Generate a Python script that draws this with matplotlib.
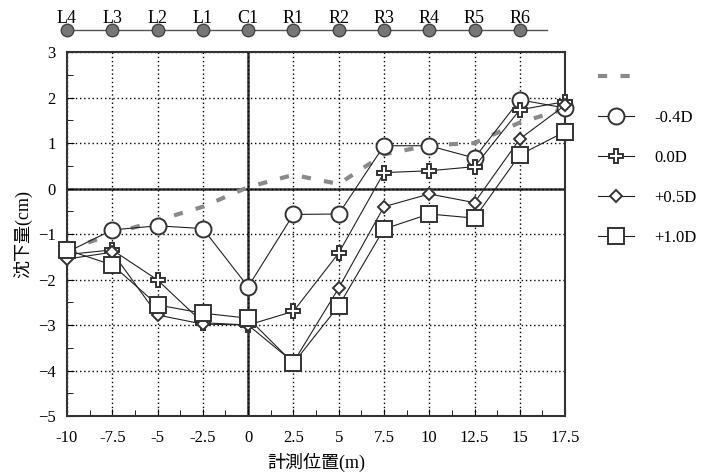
import matplotlib
matplotlib.use("Agg")
import matplotlib.pyplot as plt
from matplotlib.ticker import MultipleLocator

# 計測位置 (m)
x = [-10, -7.5, -5, -2.5, 0, 2.5, 5, 7.5, 10, 12.5, 15, 17.5]
x_labels = ["-10", "-7.5", "-5", "-2.5", "0", "2.5", "5", "7.5", "10", "12.5", "15", "17.5"]

# 沈下量 (cm)
dashed = [-1.35, -1.0, -0.7, -0.4, 0.03, 0.3, 0.1, 0.75, 0.95, 1.0, 1.45, 1.75]
s_m04 = [-1.40, -0.91, -0.82, -0.88, -2.16, -0.57, -0.56, 0.94, 0.94, 0.67, 1.95, 1.77]
s_000 = [-1.45, -1.35, -2.01, -2.95, -3.0, -2.70, -1.42, 0.35, 0.39, 0.48, 1.73, 1.91]
s_p05 = [-1.55, -1.40, -2.78, -2.98, -3.0, -3.82, -2.19, -0.40, -0.12, -0.31, 1.09, 1.83]
s_p10 = [-1.35, -1.68, -2.56, -2.74, -2.85, -3.84, -2.58, -0.89, -0.56, -0.65, 0.74, 1.25]

# 上部の測点
pt_x = [-10, -7.5, -5, -2.5, 0, 2.5, 5, 7.5, 10, 12.5, 15]
pt_labels = ["L4", "L3", "L2", "L1", "C1", "R1", "R2", "R3", "R4", "R5", "R6"]

plt.rcParams["font.family"] = ["Liberation Serif", "Noto Sans CJK JP"]
plt.rcParams["font.size"] = 12

fig = plt.figure(figsize=(7.18, 4.73), dpi=100)
ax = fig.add_axes([0.0933, 0.1205, 0.6937, 0.7695])

ax.plot(x, dashed, color="#8a8a8a", lw=3, ls=(0, (2.2, 3.2)), zorder=2, label=" ",
        clip_on=False)

mk = dict(color="#222222", lw=0.8, markerfacecolor="white", markeredgecolor="#333333",
          markeredgewidth=1.4, zorder=3, clip_on=False)
ax.plot(x, s_m04, marker="o", ms=11.5, label="-0.4D", **mk)
ax.plot(x, s_000, marker="P", ms=10, label="0.0D", **mk)
ax.plot(x, s_p05, marker="D", ms=6.5, label="+0.5D", **mk)
ax.plot(x, s_p10, marker="s", ms=11, label="+1.0D", **mk)

ax.set_xlim(-10, 17.5)
ax.set_ylim(-5, 3)
ax.set_xticks(x)
ax.set_xticklabels(x_labels)
ax.xaxis.set_minor_locator(MultipleLocator(1.25))
ax.yaxis.set_major_locator(MultipleLocator(1))
ax.yaxis.set_minor_locator(MultipleLocator(0.5))
ax.tick_params(which="both", direction="in", labelsize=12)
ax.tick_params(axis="x", pad=10)
ax.tick_params(axis="y", pad=8)
ax.tick_params(which="major", length=5)
ax.tick_params(which="minor", length=4)
ax.grid(True, which="major", color="black", ls=(0, (1, 2)), lw=1.0)
ax.axhline(0, color="#333333", lw=1.8, zorder=1)
ax.axvline(0, color="#333333", lw=1.8, zorder=1)
for s in ax.spines.values():
    s.set_linewidth(1.5)
    s.set_color("#333333")

ax.set_xlabel("計測位置(m)", fontsize=13, labelpad=5)
ax.set_ylabel("沈下量(cm)", fontsize=13, labelpad=4)

# 測点の列
tr = ax.get_xaxis_transform()
ax.plot([-10, 16.5], [1.06, 1.06], transform=tr, color="#555555", lw=1.0, clip_on=False)
ax.plot(pt_x, [1.06] * len(pt_x), transform=tr, ls="none", marker="o", ms=9,
        markerfacecolor="#777777", markeredgecolor="#444444", clip_on=False)
for px, lab in zip(pt_x, pt_labels):
    ax.text(px, 1.092, lab, transform=tr, ha="center", va="center", fontsize=13)

ax.legend(loc="upper left", bbox_to_anchor=(1.052, 0.97), frameon=False,
          borderaxespad=0, labelspacing=1.45, handlelength=2.2, handletextpad=1.2,
          fontsize=12)

fig.savefig("out.png", dpi=100)
